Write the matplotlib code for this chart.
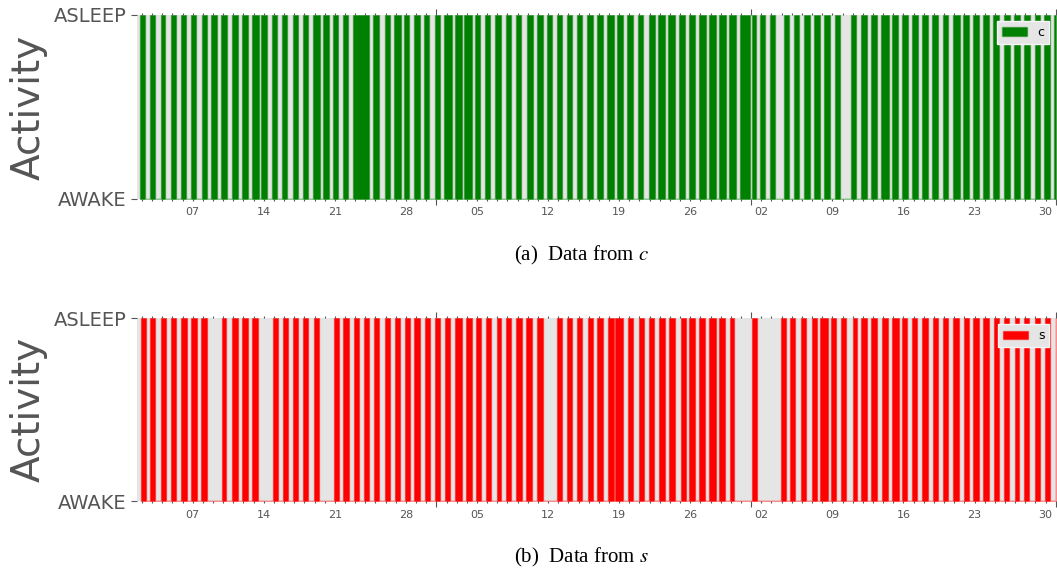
# sleep / wake activity plots for two subjects (c and s)

import numpy as np
import pandas as pd
import matplotlib
matplotlib.use('Agg')
import matplotlib.pyplot as plt
import matplotlib.dates as mdates
from matplotlib.ticker import NullFormatter, FuncFormatter

# first day of the recording
t0 = pd.Timestamp('2015-09-01')

# sleep periods of c, in days after t0 (start, end)
c_start = [0.80, 1.82, 2.90, 3.89, 4.88, 5.83, 6.94, 7.83, 8.82, 9.90,
           10.89, 11.87, 12.76, 13.84, 14.83, 15.84, 16.83, 17.85, 18.87, 19.85,
           20.84, 21.78, 23.80, 24.89, 25.85, 26.84, 27.83, 28.80, 29.87, 30.78,
           31.85, 32.76, 33.84, 34.82, 35.80, 36.88, 37.86, 38.90, 39.92, 40.90,
           41.89, 42.90, 43.88, 44.87, 45.80, 46.80, 47.82, 48.82, 49.82, 50.90,
           51.84, 52.81, 53.86, 54.91, 55.86, 56.83, 57.85, 58.86, 59.92, 61.12,
           61.86, 62.84, 64.22, 65.19, 66.18, 67.22, 68.19, 69.25, 70.80, 71.82,
           72.82, 73.83, 74.88, 75.88, 76.88, 77.85, 78.86, 79.88, 80.87, 81.89,
           82.87, 83.88, 84.84, 85.86, 86.88, 87.91, 88.91, 89.87, 90.84]
c_end = [1.30, 2.31, 3.30, 4.38, 5.37, 6.32, 7.44, 8.42, 9.34, 10.43,
         11.41, 12.49, 13.32, 14.33, 15.32, 16.34, 17.33, 18.50, 19.46, 20.34,
         21.33, 23.33, 24.35, 25.43, 26.50, 27.34, 28.35, 29.31, 30.36, 31.56,
         32.53, 33.55, 34.33, 35.31, 36.38, 37.37, 38.35, 39.52, 40.51, 41.38,
         42.42, 43.40, 44.37, 45.45, 46.40, 47.50, 48.34, 49.33, 50.37, 51.50,
         52.51, 53.50, 54.48, 55.47, 56.55, 57.52, 58.50, 59.52, 60.87, 61.52,
         62.37, 63.35, 64.74, 65.76, 66.78, 67.77, 68.78, 69.74, 71.35, 72.40,
         73.41, 74.56, 75.50, 76.47, 77.45, 78.44, 79.44, 80.41, 81.56, 82.50,
         83.43, 84.44, 85.41, 86.45, 87.44, 88.46, 89.48, 90.43, 91.00]

# sleep periods of s, in days after t0 (start, end)
s_start = [0.93, 1.82, 2.87, 3.89, 4.88, 5.86, 6.85, 8.91, 9.87, 10.89,
           11.87, 13.94, 14.92, 15.84, 16.86, 17.91, 19.92, 20.84, 21.86, 22.90,
           23.88, 24.91, 25.95, 26.87, 27.80, 28.87, 29.84, 30.87, 31.84, 32.94,
           33.90, 34.85, 35.97, 36.89, 37.87, 38.87, 39.92, 41.91, 42.88, 43.88,
           44.91, 45.85, 46.92, 47.58, 48.90, 49.94, 50.93, 51.90, 52.91, 54.06,
           54.91, 55.90, 56.85, 57.82, 58.90, 61.05, 63.90, 64.85, 65.88, 66.95,
           67.82, 68.88, 69.86, 71.04, 71.86, 72.84, 73.88, 74.87, 75.86, 76.88,
           77.84, 78.90, 79.86, 80.90, 81.95, 82.87, 83.88, 84.91, 85.93, 86.98,
           87.86, 88.98, 89.93, 90.98]
s_end = [1.43, 2.31, 3.40, 4.38, 5.47, 6.42, 7.44, 9.31, 10.43, 11.44,
         12.46, 14.43, 15.42, 16.37, 17.35, 18.44, 20.41, 21.36, 22.36, 23.39,
         24.37, 25.39, 26.44, 27.36, 28.39, 29.36, 30.38, 31.37, 32.55, 33.48,
         34.44, 35.41, 36.39, 37.38, 38.44, 39.45, 40.50, 42.40, 43.39, 44.39,
         45.42, 46.38, 47.45, 48.38, 49.39, 50.41, 51.43, 52.51, 53.50, 54.62,
         55.45, 56.42, 57.58, 58.42, 59.30, 61.53, 64.42, 65.33, 66.37, 67.47,
         68.53, 69.36, 70.32, 71.41, 72.43, 73.41, 74.48, 75.55, 76.35, 77.37,
         78.40, 79.41, 80.35, 81.49, 82.45, 83.40, 84.42, 85.43, 86.42, 87.40,
         88.39, 89.44, 90.43, 91.00]

grey = '#555555'
plt.rcParams['mathtext.fontset'] = 'stix'


def monday_label(v, pos):
    d = mdates.num2date(v)
    return d.strftime('%d') if d.weekday() == 0 else ''


def activity(ax, start, end, color, edge, label):
    # turn the sleep periods into one 0/1 outline
    x = []
    y = []
    for s, e in zip(start, end):
        x += [s, s, e, e]
        y += [0, 1, 1, 0]
    x = mdates.date2num(t0) + np.array(x)
    ax.fill_between(x, y, 0, facecolor=color, edgecolor=edge, linewidth=1, label=label)

    ax.set_facecolor('#E5E5E5')
    for sp in ax.spines.values():
        sp.set_visible(False)
    ax.set_xlim(mdates.date2num(t0) + 0.5, mdates.date2num(t0) + 91)
    ax.set_ylim(0, 1)

    ax.set_yticks([0, 1])
    ax.set_yticklabels(['AWAKE', 'ASLEEP'], fontsize=14, color=grey)
    ax.tick_params(axis='y', left=True, right=False, direction='out', length=4, color=grey)
    ax.set_ylabel('Activity', fontsize=28, color=grey)

    ax.xaxis.set_major_locator(mdates.MonthLocator())
    ax.xaxis.set_major_formatter(NullFormatter())
    ax.xaxis.set_minor_locator(mdates.DayLocator())
    ax.xaxis.set_minor_formatter(FuncFormatter(monday_label))
    ax.tick_params(axis='x', which='both', top=True, bottom=True, direction='out',
                   colors=grey, labelsize=8)
    ax.tick_params(axis='x', which='major', length=4, width=0.8)
    ax.tick_params(axis='x', which='minor', length=1.5, width=0.8, pad=4.5)

    leg = ax.legend(loc='upper right', fontsize=9, fancybox=False)
    leg.get_frame().set_facecolor('#E5E5E5')
    leg.get_frame().set_edgecolor('#F5F5F5')
    leg.get_frame().set_alpha(1)


fig = plt.figure(figsize=(10.57, 5.70), dpi=100)
ax1 = fig.add_axes([0.1295, 0.6509, 0.8693, 0.3228])
ax2 = fig.add_axes([0.1295, 0.1202, 0.8693, 0.3219])

activity(ax1, c_start, c_end, 'green', (0, 0.5, 0, 0.45), 'c')
activity(ax2, s_start, s_end, 'red', (1, 0, 0, 0.45), 's')

fig.text(0.5497, 0.5526, r'(a)  Data from $c$', family='Liberation Serif',
         fontsize=15, ha='center', va='center')
fig.text(0.5497, 0.0228, r'(b)  Data from $s$', family='Liberation Serif',
         fontsize=15, ha='center', va='center')

fig.savefig('out.png', dpi=100)
